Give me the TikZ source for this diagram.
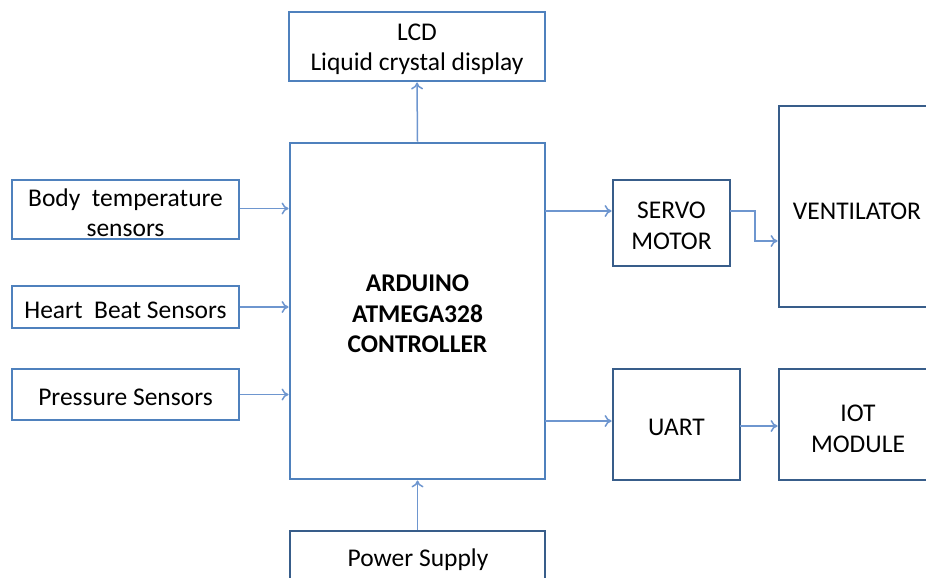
\documentclass[tikz,border=0pt]{standalone}
\usepackage{fontspec}
\setmainfont{Carlito}
\usetikzlibrary{arrows.meta}
\definecolor{boxlight}{RGB}{79,129,189}
\definecolor{boxdark}{RGB}{56,93,138}
\definecolor{arrowc}{RGB}{110,150,207}
\tikzset{
  txt/.style={font=\fontsize{25.5}{30.5}\selectfont, text=black, align=center},
  blk/.style={draw=#1, line width=2.9pt, inner sep=0pt},
  conn/.style={draw=arrowc, line width=1.5pt, -{To[length=7pt,width=12pt]}},
}
\newcommand{\boxat}[7]{% name, x1,y1,x2,y2, colour, text
  \node[blk=#6, minimum width=\fpeval{#4-#2}pt, minimum height=\fpeval{#5-#3}pt,
        label={[txt,yshift=-3pt]center:#7}] (#1) at ({(#2+#4)/2},{(#3+#5)/2}) {};}
\begin{document}
\begin{tikzpicture}[x=1pt,y=-1pt]
\useasboundingbox (0,0) rectangle (926,578);
\clip (0,0) rectangle (926,578);
\boxat{lcd}{289}{12}{545}{81}{boxlight}{LCD\\Liquid crystal display}
\boxat{ard}{290}{143}{545}{479}{boxlight}{\textbf{ARDUINO}\\\textbf{ATMEGA328}\\\textbf{CONTROLLER}}
\boxat{body}{12}{180}{239}{239}{boxlight}{Body\ \ temperature\\sensors}
\boxat{heart}{12}{286}{239}{328}{boxlight}{Heart\ \ Beat Sensors}
\boxat{press}{12}{369}{239}{420}{boxlight}{Pressure Sensors}
\boxat{servo}{613}{180}{730}{266}{boxdark}{SERVO\\MOTOR}
\boxat{vent}{779}{106}{932}{307}{boxdark}{}
\node[txt] (venttext) at (857,211) {VENTILATOR};
\boxat{uart}{613}{369}{740}{480}{boxdark}{UART}
\boxat{iot}{779}{369}{938}{480}{boxdark}{}
\node[txt] (iottext) at (858,429) {IOT\\MODULE};
\boxat{power}{290}{531}{545}{600}{boxdark}{}
\node[txt] (powertext) at (418,560) {Power Supply};
% connector end points
\coordinate (a1) at (545,211);
\coordinate (s1) at (730,211);
\coordinate (s2) at (755,241);
\coordinate (u1) at (545,421);
\coordinate (u2) at (740,426);
% connectors
\draw[conn] (ard.north) -- (lcd.south);
\draw[conn] ([yshift=1pt]body.east) -- ([yshift=1pt]body.east -| ard.west);
\draw[conn] (heart.east) -- (heart.east -| ard.west);
\draw[conn] (press.east) -- (press.east -| ard.west);
\draw[conn] (a1) -- (a1 -| servo.west);
\draw[conn] (s1) -| (s2) -- (s2 -| vent.west);
\draw[conn] (u1) -- (u1 -| uart.west);
\draw[conn] (u2) -- (u2 -| iot.west);
\draw[conn] (power.north -| ard.south) -- (ard.south);
\end{tikzpicture}
\end{document}
